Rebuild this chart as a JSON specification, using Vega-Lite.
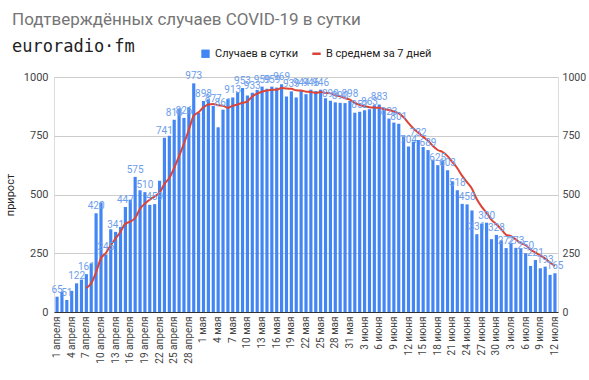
{
  "$schema": "https://vega.github.io/schema/vega-lite/v6.json",
  "width": 504,
  "height": 235,
  "autosize": {"type": "none"},
  "padding": {"left": 54, "top": 77, "right": 31, "bottom": 68},
  "background": "white",
  "title": {
    "text": "Подтверждённых случаев COVID-19 в сутки",
    "subtitle": "euroradio·fm",
    "anchor": "start",
    "frame": "group",
    "dx": -42,
    "offset": -8,
    "font": "Roboto",
    "fontSize": 17,
    "fontWeight": "normal",
    "color": "#757575",
    "subtitleFont": "DejaVu Sans Mono",
    "subtitleFontSize": 17,
    "subtitleColor": "#222222",
    "subtitlePadding": 10
  },
  "data": {
    "values": [
      {"d":"1 апреля","n":65,"a":null,"l":1},{"d":"2 апреля","n":86,"a":null,"l":0},{"d":"3 апреля","n":51,"a":null,"l":1},{"d":"4 апреля","n":90,"a":null,"l":0},{"d":"5 апреля","n":122,"a":null,"l":1},{"d":"6 апреля","n":138,"a":null,"l":0},{"d":"7 апреля","n":161,"a":101.9,"l":1},{"d":"8 апреля","n":206,"a":122,"l":0},{"d":"9 апреля","n":420,"a":169.7,"l":1},{"d":"10 апреля","n":466,"a":229,"l":0},
      {"d":"11 апреля","n":245,"a":251.1,"l":1},{"d":"12 апреля","n":352,"a":284,"l":0},{"d":"13 апреля","n":341,"a":313,"l":1},{"d":"14 апреля","n":362,"a":341.7,"l":0},{"d":"15 апреля","n":447,"a":376.1,"l":1},{"d":"16 апреля","n":478,"a":384.4,"l":0},{"d":"17 апреля","n":575,"a":400,"l":1},{"d":"18 апреля","n":518,"a":439,"l":0},{"d":"19 апреля","n":510,"a":461.6,"l":1},{"d":"20 апреля","n":456,"a":478,"l":0},
      {"d":"21 апреля","n":459,"a":491.9,"l":1},{"d":"22 апреля","n":558,"a":507.7,"l":0},{"d":"23 апреля","n":741,"a":545.3,"l":1},{"d":"24 апреля","n":750,"a":570.3,"l":0},{"d":"25 апреля","n":818,"a":613.1,"l":1},{"d":"26 апреля","n":864,"a":663.7,"l":0},{"d":"27 апреля","n":826,"a":716.6,"l":1},{"d":"28 апреля","n":871,"a":775.4,"l":0},{"d":"29 апреля","n":973,"a":834.7,"l":1},{"d":"30 апреля","n":847,"a":849.9,"l":0},
      {"d":"1 мая","n":898,"a":871,"l":1},{"d":"2 мая","n":905,"a":883.4,"l":0},{"d":"3 мая","n":877,"a":885.3,"l":1},{"d":"4 мая","n":786,"a":879.6,"l":0},{"d":"5 мая","n":861,"a":878.1,"l":1},{"d":"6 мая","n":906,"a":868.6,"l":0},{"d":"7 мая","n":913,"a":878,"l":1},{"d":"8 мая","n":935,"a":883.3,"l":0},{"d":"9 мая","n":953,"a":890.1,"l":1},{"d":"10 мая","n":921,"a":896.4,"l":0},
      {"d":"11 мая","n":933,"a":917.4,"l":1},{"d":"12 мая","n":945,"a":929.4,"l":0},{"d":"13 мая","n":959,"a":937,"l":1},{"d":"14 мая","n":950,"a":942.3,"l":0},{"d":"15 мая","n":959,"a":945.7,"l":1},{"d":"16 мая","n":955,"a":946,"l":0},{"d":"17 мая","n":969,"a":952.9,"l":1},{"d":"18 мая","n":917,"a":950.6,"l":0},{"d":"19 мая","n":939,"a":949.7,"l":1},{"d":"20 мая","n":913,"a":943.1,"l":0},
      {"d":"21 мая","n":944,"a":942.3,"l":1},{"d":"22 мая","n":927,"a":937.7,"l":0},{"d":"23 мая","n":946,"a":936.4,"l":1},{"d":"24 мая","n":940,"a":932.3,"l":0},{"d":"25 мая","n":946,"a":936.4,"l":1},{"d":"26 мая","n":910,"a":932.3,"l":0},{"d":"27 мая","n":899,"a":930.3,"l":1},{"d":"28 мая","n":892,"a":922.9,"l":0},{"d":"29 мая","n":890,"a":917.6,"l":1},{"d":"30 мая","n":889,"a":909.4,"l":0},
      {"d":"31 мая","n":898,"a":903.4,"l":1},{"d":"1 июня","n":848,"a":889.4,"l":0},{"d":"2 июня","n":852,"a":881.1,"l":1},{"d":"3 июня","n":858,"a":875.3,"l":0},{"d":"4 июня","n":863,"a":871.1,"l":1},{"d":"5 июня","n":880,"a":869.7,"l":0},{"d":"6 июня","n":883,"a":868.9,"l":1},{"d":"7 июня","n":860,"a":863.4,"l":0},{"d":"8 июня","n":823,"a":859.9,"l":1},{"d":"9 июня","n":806,"a":853.3,"l":0},
      {"d":"10 июня","n":801,"a":845.1,"l":1},{"d":"11 июня","n":747,"a":828.6,"l":0},{"d":"12 июня","n":704,"a":803.4,"l":1},{"d":"13 июня","n":725,"a":780.9,"l":0},{"d":"14 июня","n":732,"a":762.6,"l":1},{"d":"15 июня","n":702,"a":745.3,"l":0},{"d":"16 июня","n":689,"a":728.6,"l":1},{"d":"17 июня","n":648,"a":706.7,"l":0},{"d":"18 июня","n":625,"a":689.3,"l":1},{"d":"19 июня","n":645,"a":680.9,"l":0},
      {"d":"20 июня","n":603,"a":663.4,"l":1},{"d":"21 июня","n":555,"a":638.1,"l":0},{"d":"22 июня","n":518,"a":611.9,"l":1},{"d":"23 июня","n":460,"a":579.1,"l":0},{"d":"24 июня","n":458,"a":552,"l":1},{"d":"25 июня","n":432,"a":524.4,"l":0},{"d":"26 июня","n":331,"a":479.6,"l":1},{"d":"27 июня","n":375,"a":447,"l":0},{"d":"28 июня","n":380,"a":422,"l":1},{"d":"29 июня","n":310,"a":392.3,"l":0},
      {"d":"30 июня","n":328,"a":373.4,"l":1},{"d":"1 июля","n":305,"a":351.6,"l":0},{"d":"2 июля","n":272,"a":328.7,"l":1},{"d":"3 июля","n":290,"a":322.9,"l":0},{"d":"4 июля","n":273,"a":308.3,"l":1},{"d":"5 июля","n":270,"a":292.6,"l":0},{"d":"6 июля","n":250,"a":284,"l":1},{"d":"7 июля","n":196,"a":265.1,"l":0},{"d":"8 июля","n":221,"a":253.1,"l":1},{"d":"9 июля","n":186,"a":240.9,"l":0},
      {"d":"10 июля","n":193,"a":227,"l":1},{"d":"11 июля","n":158,"a":210.6,"l":0},{"d":"12 июля","n":165,"a":195.6,"l":1}
    ]
  },
  "encoding": {
    "x": {
      "field": "d",
      "type": "ordinal",
      "sort": null,
      "scale": {"paddingInner": 0.35, "paddingOuter": 0.3},
      "axis": {
        "title": null,
        "values": ["1 апреля","4 апреля","7 апреля","10 апреля","13 апреля","16 апреля","19 апреля","22 апреля","25 апреля","28 апреля","1 мая","4 мая","7 мая","10 мая","13 мая","16 мая","19 мая","22 мая","25 мая","28 мая","31 мая","3 июня","6 июня","9 июня","12 июня","15 июня","18 июня","21 июня","24 июня","27 июня","30 июня","3 июля","6 июля","9 июля","12 июля"],
        "labelAngle": -90,
        "labelAlign": "right",
        "labelBaseline": "middle",
        "labelFont": "Roboto",
        "labelFontSize": 10,
        "labelColor": "#444444",
        "labelPadding": 4,
        "ticks": false,
        "domain": true,
        "domainColor": "#333333",
        "labelOverlap": false
      }
    }
  },
  "layer": [
    {
      "mark": {"type": "bar", "color": "#4285F4"},
      "encoding": {
        "y": {
          "field": "n",
          "type": "quantitative",
          "scale": {"domain": [0, 1000]},
          "axis": {
            "title": "прирост",
            "titleFont": "Roboto",
            "titleFontSize": 11,
            "titleFontWeight": "normal",
            "titleColor": "#222222",
            "titlePadding": 8,
            "values": [0, 250, 500, 750, 1000],
            "format": "d",
            "labelFont": "Roboto",
            "labelFontSize": 11,
            "labelColor": "#444444",
            "ticks": false,
            "domain": false,
            "labelPadding": 6,
            "grid": true,
            "gridColor": "#cccccc"
          }
        },
        "color": {
          "datum": "Случаев в сутки",
          "scale": {"domain": ["Случаев в сутки", "В среднем за 7 дней"], "range": ["#4285F4", "#DB4437"]},
          "legend": {
            "title": null,
            "orient": "none",
            "legendX": 146,
            "legendY": -29,
            "direction": "horizontal",
            "labelFont": "Roboto",
            "labelFontSize": 11,
            "labelColor": "#222222",
            "symbolSize": 70,
            "columnPadding": 12,
            "encode": {
              "symbols": {
                "update": {
                  "shape": {"signal": "datum.value === 'Случаев в сутки' ? 'square' : 'M-1,-0.3H1V0.3H-1Z'"},
                  "fill": {"signal": "datum.value === 'Случаев в сутки' ? '#4285F4' : '#DB4437'"},
                  "strokeWidth": {"value": 0}
                }
              }
            }
          }
        }
      }
    },
    {
      "mark": {"type": "line", "color": "#DB4437", "strokeWidth": 2, "interpolate": "monotone"},
      "encoding": {
        "y": {
          "field": "a",
          "type": "quantitative",
          "scale": {"domain": [0, 1000]},
          "axis": {
            "orient": "right",
            "title": null,
            "values": [0, 250, 500, 750, 1000],
            "format": "d",
            "labelFont": "Roboto",
            "labelFontSize": 10.5,
            "labelColor": "#444444",
            "ticks": false,
            "domain": false,
            "grid": false,
            "labelPadding": 4
          }
        },
        "color": {"datum": "В среднем за 7 дней"}
      }
    },
    {
      "transform": [{"filter": "datum.l == 1"}],
      "mark": {"type": "text", "font": "Roboto", "fontSize": 10, "color": "#6d9eeb", "baseline": "bottom", "dy": -2},
      "encoding": {
        "y": {"field": "n", "type": "quantitative", "scale": {"domain": [0, 1000]}, "axis": null},
        "text": {"field": "n", "type": "quantitative"}
      }
    }
  ],
  "resolve": {"axis": {"y": "independent"}}
}
